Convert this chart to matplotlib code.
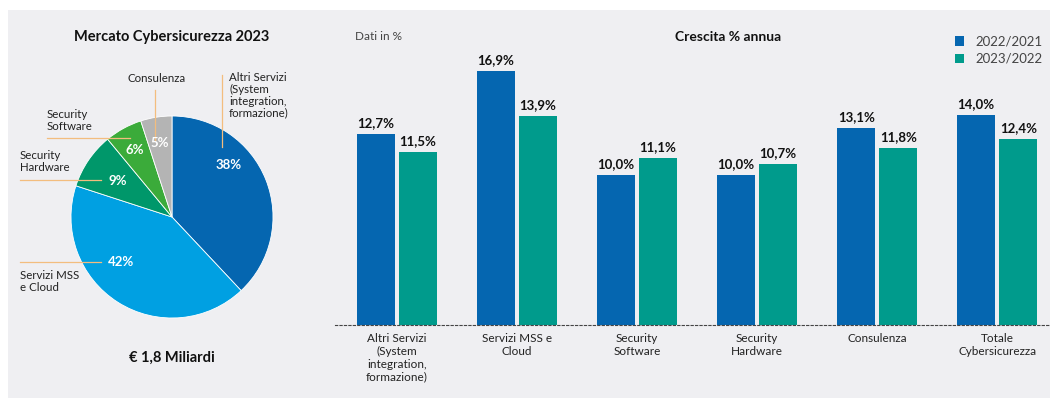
import matplotlib
matplotlib.use('Agg')
import matplotlib.pyplot as plt
from matplotlib.lines import Line2D
import numpy as np

plt.rcParams['font.family'] = ['Lato', 'DejaVu Sans']

# --- data ---
pie_labels = ['Altri Servizi\n(System\nintegration,\nformazione)', 'Servizi MSS\ne Cloud',
              'Security\nHardware', 'Security\nSoftware', 'Consulenza']
pie_shares = [38, 42, 9, 6, 5]
pie_colors = ['#0566b0', '#00a0e2', '#00976a', '#3bab3a', '#b4b4b4']

categories = ['Altri Servizi\n(System\nintegration,\nformazione)', 'Servizi MSS e\nCloud',
              'Security\nSoftware', 'Security\nHardware', 'Consulenza', 'Totale\nCybersicurezza']
growth_22_21 = [12.7, 16.9, 10.0, 10.0, 13.1, 14.0]
growth_23_22 = [11.5, 13.9, 11.1, 10.7, 11.8, 12.4]
series_names = ['2022/2021', '2023/2022']
bar_colors = ['#0566b0', '#009b8c']

W, H = 1056, 399
fig = plt.figure(figsize=(W / 100, H / 100), dpi=100)
fig.patch.set_facecolor('white')


def fx(x):
    return x / W


def fy(y):
    return 1 - y / H


def box(x0, y0, x1, y1):
    return [fx(x0), fy(y1), fx(x1) - fx(x0), fy(y0) - fy(y1)]


# grey panel behind everything
bg = fig.add_axes(box(8, 10, 1050, 398), zorder=-10)
bg.set_facecolor('#efeff2')
bg.set_xticks([])
bg.set_yticks([])
for s in bg.spines.values():
    s.set_visible(False)

# --- pie ---
axp = fig.add_axes(box(71, 116, 273, 318))
axp.pie(pie_shares, colors=pie_colors, startangle=90, counterclock=False, radius=1,
        wedgeprops=dict(edgecolor='white', linewidth=0.6))
axp.set_xlim(-1, 1)
axp.set_ylim(-1, 1)
axp.set_aspect('equal')
axp.axis('off')

pct_pos = [(229, 165), (121, 262), (118, 181), (135, 150), (160, 143)]
for v, (x, y) in zip(pie_shares, pct_pos):
    fig.text(fx(x), fy(y), f'{v}%', color='white', fontsize=9.5, fontweight='bold',
             ha='center', va='center', zorder=5)

lbl_kw = dict(fontsize=8.3, color='#222222', linespacing=1.1)
fig.text(fx(229), fy(72), pie_labels[0], ha='left', va='top', **lbl_kw)
fig.text(fx(20), fy(270), pie_labels[1], ha='left', va='top', **lbl_kw)
fig.text(fx(20), fy(150), pie_labels[2], ha='left', va='top', **lbl_kw)
fig.text(fx(47), fy(109), pie_labels[3], ha='left', va='top', **lbl_kw)
fig.text(fx(157), fy(78), pie_labels[4], ha='center', va='center', **lbl_kw)

lead = '#f3bd7e'
for (x0, y0, x1, y1) in [(222, 75, 222, 147), (155, 90, 155, 140),
                         (47, 138, 130, 138), (20, 180, 101, 180), (20, 262, 101, 262)]:
    fig.add_artist(Line2D([fx(x0), fx(x1)], [fy(y0), fy(y1)], color=lead, lw=0.9,
                          transform=fig.transFigure, zorder=4))

fig.text(fx(172), fy(37), 'Mercato Cybersicurezza 2023', fontsize=10.5, fontweight='bold',
         ha='center', va='center', color='#111111')
fig.text(fx(172), fy(358), '€ 1,8 Miliardi', fontsize=10.5, fontweight='bold',
         ha='center', va='center', color='#111111')

# --- bars ---
axb = fig.add_axes(box(335, 20, 1050, 325))
axb.set_facecolor('none')
x = np.arange(len(categories))
off = 0.175
bw = 0.317
b1 = axb.bar(x - off, growth_22_21, bw, color=bar_colors[0], label=series_names[0])
b2 = axb.bar(x + off, growth_23_22, bw, color=bar_colors[1], label=series_names[1])
for bars in (b1, b2):
    for r in bars:
        v = r.get_height()
        axb.text(r.get_x() + r.get_width() / 2, v + 0.35, f'{v:.1f}%'.replace('.', ','),
                 ha='center', va='bottom', fontsize=9.5, fontweight='bold', color='#111111')

axb.set_xlim(-0.517, 5.44)
axb.set_ylim(0, 20.33)
axb.set_xticks(x)
axb.set_xticklabels(categories, fontsize=8.5, color='#222222', linespacing=1.2)
axb.tick_params(axis='x', length=0, pad=6)
axb.set_yticks([])
for s in ['top', 'right', 'left']:
    axb.spines[s].set_visible(False)
axb.spines['bottom'].set_linestyle((0, (2, 2)))
axb.spines['bottom'].set_color('#444444')
axb.spines['bottom'].set_linewidth(0.8)

fig.text(fx(355), fy(37), 'Dati in %', fontsize=8.5, color='#444444', ha='left', va='center')
fig.text(fx(728), fy(37), 'Crescita % annua', fontsize=10, fontweight='bold',
         ha='center', va='center', color='#111111')

axb.legend(handles=[b1, b2], loc='upper left', bbox_to_anchor=(fx(948), fy(29)),
           bbox_transform=fig.transFigure, frameon=False, fontsize=9.5,
           handlelength=0.7, handleheight=0.7, handletextpad=0.9, labelspacing=0.4,
           borderpad=0, labelcolor='#444444')

fig.savefig('out.png', dpi=100)
